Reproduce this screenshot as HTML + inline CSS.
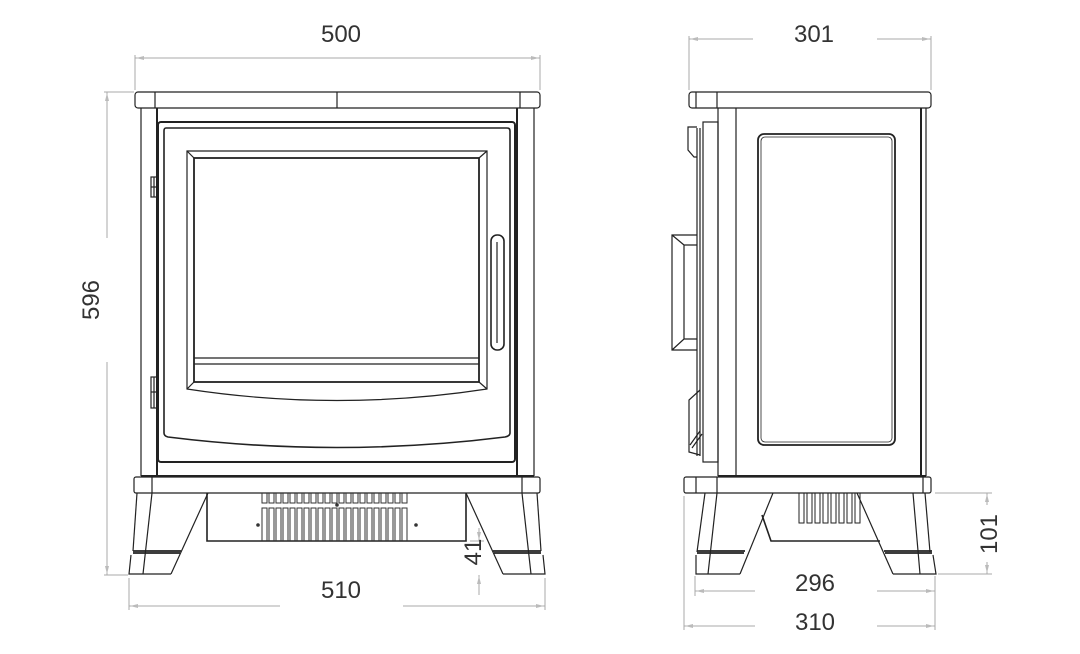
<!DOCTYPE html>
<html><head><meta charset="utf-8"><style>
html,body{margin:0;padding:0;background:#fff}
svg{display:block}
text{font-family:"Liberation Sans",sans-serif;font-size:24px;fill:#333}
</style></head><body>
<svg width="1080" height="654" viewBox="0 0 1080 654" xmlns="http://www.w3.org/2000/svg">
<g fill="none" stroke="#222" stroke-width="1.2">
<!-- FRONT VIEW -->
<rect x="135" y="92" width="405" height="16" rx="3"/>
<line x1="155" y1="92" x2="155" y2="108"/><line x1="520" y1="92" x2="520" y2="108"/><line x1="337" y1="92" x2="337" y2="108"/>
<line x1="141" y1="108" x2="141" y2="476"/><line x1="534" y1="108" x2="534" y2="476"/>
<line x1="157" y1="108" x2="157" y2="476" stroke-width="2"/><line x1="517" y1="108" x2="517" y2="476" stroke-width="2"/>
<rect x="158" y="122" width="357" height="340" rx="3" stroke-width="2"/>
<path d="M166 128 H507 Q510 128 510 131 V433 Q510 436 505 437 Q337 458 168 437 Q164 436 164 433 V131 Q164 128 166 128Z" stroke-width="1.6"/>
<path d="M187 151 H487 V389 Q337 412 187 389Z"/>
<rect x="194" y="158" width="285" height="224" stroke-width="1.8"/>
<line x1="187" y1="151" x2="194" y2="158"/><line x1="487" y1="151" x2="479" y2="158"/><line x1="187" y1="389" x2="194" y2="382"/><line x1="487" y1="389" x2="479" y2="382"/>
<line x1="194" y1="358" x2="479" y2="358"/><line x1="194" y1="364" x2="479" y2="364"/>
<rect x="491" y="235" width="13" height="115" rx="6" stroke-width="1.6"/>
<line x1="497" y1="242" x2="497" y2="343"/>
<rect x="151" y="177" width="7" height="20"/><line x1="151" y1="187" x2="158" y2="187"/><line x1="154" y1="177" x2="154" y2="197"/>
<rect x="151" y="377" width="7" height="31"/><line x1="151" y1="392" x2="158" y2="392"/><line x1="154" y1="377" x2="154" y2="408"/>
<line x1="141" y1="476" x2="534" y2="476" stroke-width="2"/>
<rect x="134" y="477" width="406" height="16" rx="2"/>
<line x1="152" y1="477" x2="152" y2="493"/><line x1="522" y1="477" x2="522" y2="493"/>
<!-- left leg -->
<line x1="137" y1="493" x2="133" y2="551"/><line x1="152" y1="493" x2="143" y2="574"/>
<line x1="208" y1="493" x2="171" y2="574"/>
<path d="M133 551 H181 M133 553 H180" stroke-width="1.8"/>
<path d="M131 555 L129 574 H171"/>
<!-- right leg -->
<line x1="537" y1="493" x2="541" y2="551"/><line x1="522" y1="493" x2="531" y2="574"/>
<line x1="466" y1="493" x2="503" y2="574"/>
<path d="M493 551 H541 M494 553 H541" stroke-width="1.8"/>
<path d="M543 555 L545 574 H503"/>
<!-- vent box -->
<path d="M207 493 V541 H466 V493" stroke-width="1.6"/>
</g>
<g fill="none" stroke="#333" stroke-width="1">
<path id="slats" d="M262 493 v10 h5 v-10 M269 493 v10 h5 v-10 M276 493 v10 h5 v-10 M283 493 v10 h5 v-10 M290 493 v10 h5 v-10 M297 493 v10 h5 v-10 M304 493 v10 h5 v-10 M311 493 v10 h5 v-10 M318 493 v10 h5 v-10 M325 493 v10 h5 v-10 M332 493 v10 h5 v-10 M339 493 v10 h5 v-10 M346 493 v10 h5 v-10 M353 493 v10 h5 v-10 M360 493 v10 h5 v-10 M367 493 v10 h5 v-10 M374 493 v10 h5 v-10 M381 493 v10 h5 v-10 M388 493 v10 h5 v-10 M395 493 v10 h5 v-10 M402 493 v10 h5 v-10"/>
<path d="M262 541 v-33 h5 v33 M269 541 v-33 h5 v33 M276 541 v-33 h5 v33 M283 541 v-33 h5 v33 M290 541 v-33 h5 v33 M297 541 v-33 h5 v33 M304 541 v-33 h5 v33 M311 541 v-33 h5 v33 M318 541 v-33 h5 v33 M325 541 v-33 h5 v33 M332 541 v-33 h5 v33 M339 541 v-33 h5 v33 M346 541 v-33 h5 v33 M353 541 v-33 h5 v33 M360 541 v-33 h5 v33 M367 541 v-33 h5 v33 M374 541 v-33 h5 v33 M381 541 v-33 h5 v33 M388 541 v-33 h5 v33 M395 541 v-33 h5 v33 M402 541 v-33 h5 v33"/>
</g>
<g fill="#333"><circle cx="337" cy="505" r="1.8"/><circle cx="258" cy="525" r="1.8"/><circle cx="416" cy="525" r="1.8"/></g>

<!-- SIDE VIEW -->
<g fill="none" stroke="#222" stroke-width="1.2">
<rect x="689" y="92" width="242" height="16" rx="3"/>
<line x1="696" y1="92" x2="696" y2="108"/><line x1="717" y1="92" x2="717" y2="108"/>
<line x1="718" y1="108" x2="718" y2="476"/><line x1="736" y1="108" x2="736" y2="476"/>
<line x1="921" y1="108" x2="921" y2="476" stroke-width="2"/><line x1="926" y1="108" x2="926" y2="476"/>
<rect x="758" y="134" width="137" height="311" rx="6" stroke-width="1.8"/>
<rect x="761" y="137" width="131" height="305" rx="4" stroke-width="0.8"/>
<!-- door profile -->
<rect x="703" y="122" width="15" height="340"/>
<line x1="697" y1="128" x2="697" y2="456"/><line x1="700" y1="128" x2="700" y2="456"/>
<path d="M697 127 H688 V150 L694 157 H697"/>
<path d="M697 235 H672 V350 H697 M684 245 V339 M672 235 L684 245 H697 M672 350 L684 339 H697"/>
<path d="M700 390 L689 400 V452 L700 455"/>
<path d="M700 431 L690 445 M702 434 L692 448"/>
<line x1="718" y1="476" x2="926" y2="476" stroke-width="2"/>
<rect x="684" y="477" width="247" height="16" rx="2"/>
<line x1="696" y1="477" x2="696" y2="493"/><line x1="717" y1="477" x2="717" y2="493"/><line x1="923" y1="477" x2="923" y2="493"/>
<line x1="705" y1="493" x2="697" y2="552"/><line x1="717" y1="493" x2="708" y2="574"/>
<line x1="773" y1="493" x2="740" y2="574"/>
<path d="M697 551 H745 M697 553 H744" stroke-width="1.8"/>
<path d="M696 555 L696 574 H740"/>
<line x1="857" y1="493" x2="893" y2="574"/>
<line x1="913" y1="493" x2="920" y2="574"/><line x1="925" y1="493" x2="930" y2="552"/>
<path d="M884 551 H932 M885 553 H932" stroke-width="1.8"/>
<path d="M933 555 L936 574 H893"/>
<path d="M762 515 L771 541 H880" stroke-width="1.6"/>
<path d="M799 493 v30 h5 v-30 M807 493 v30 h5 v-30 M815 493 v30 h5 v-30 M823 493 v30 h5 v-30 M831 493 v30 h5 v-30 M839 493 v30 h5 v-30 M847 493 v30 h5 v-30 M855 493 v30 h5 v-30" stroke-width="1"/>
</g>

<!-- DIMENSIONS -->
<g fill="none" stroke="#aaa" stroke-width="1">
<line x1="135" y1="55" x2="135" y2="90"/><line x1="540" y1="55" x2="540" y2="90"/>
<line x1="135" y1="58" x2="540" y2="58"/>
<line x1="104" y1="92" x2="134" y2="92"/><line x1="104" y1="575" x2="128" y2="575"/>
<line x1="107" y1="92" x2="107" y2="238"/><line x1="107" y1="362" x2="107" y2="575"/>
<line x1="129" y1="578" x2="129" y2="610"/><line x1="545" y1="578" x2="545" y2="610"/>
<line x1="129" y1="606" x2="280" y2="606"/><line x1="403" y1="606" x2="545" y2="606"/>
<line x1="470" y1="541" x2="484" y2="541"/><line x1="479" y1="528" x2="479" y2="541"/><line x1="479" y1="575" x2="479" y2="595"/>
<line x1="689" y1="36" x2="689" y2="90"/><line x1="931" y1="36" x2="931" y2="90"/>
<line x1="689" y1="39" x2="753" y2="39"/><line x1="877" y1="39" x2="931" y2="39"/>
<line x1="695" y1="576" x2="695" y2="596"/><line x1="935" y1="576" x2="935" y2="630"/>
<line x1="695" y1="591" x2="755" y2="591"/><line x1="877" y1="591" x2="935" y2="591"/>
<line x1="684" y1="496" x2="684" y2="630"/>
<line x1="684" y1="626" x2="755" y2="626"/><line x1="877" y1="626" x2="935" y2="626"/>
<line x1="935" y1="493" x2="992" y2="493"/><line x1="938" y1="574" x2="992" y2="574"/>
<line x1="987" y1="493" x2="987" y2="505"/><line x1="987" y1="562" x2="987" y2="574"/>
</g>
<g fill="#bbb">
<path d="M136 58 l8 -2 v4z"/><path d="M539 58 l-8 -2 v4z"/>
<path d="M107 93 l-2 8 h4z"/><path d="M107 574 l-2 -8 h4z"/>
<path d="M130 606 l8 -2 v4z"/><path d="M544 606 l-8 -2 v4z"/>
<path d="M690 39 l8 -2 v4z"/><path d="M930 39 l-8 -2 v4z"/>
<path d="M696 591 l8 -2 v4z"/><path d="M934 591 l-8 -2 v4z"/>
<path d="M685 626 l8 -2 v4z"/><path d="M934 626 l-8 -2 v4z"/>
<path d="M987 494 l-2 8 h4z"/><path d="M987 573 l-2 -8 h4z"/>
<path d="M479 540 l-2 -8 h4z"/><path d="M479 576 l-2 8 h4z"/>
</g>
<text x="341" y="42" text-anchor="middle">500</text>
<text x="341" y="598" text-anchor="middle">510</text>
<text x="814" y="42" text-anchor="middle">301</text>
<text x="815" y="591" text-anchor="middle">296</text>
<text x="815" y="630" text-anchor="middle">310</text>
<text transform="translate(99,300) rotate(-90)" text-anchor="middle">596</text>
<text transform="translate(481,552) rotate(-90)" text-anchor="middle">41</text>
<text transform="translate(997,534) rotate(-90)" text-anchor="middle">101</text>
</svg>
</body></html>
